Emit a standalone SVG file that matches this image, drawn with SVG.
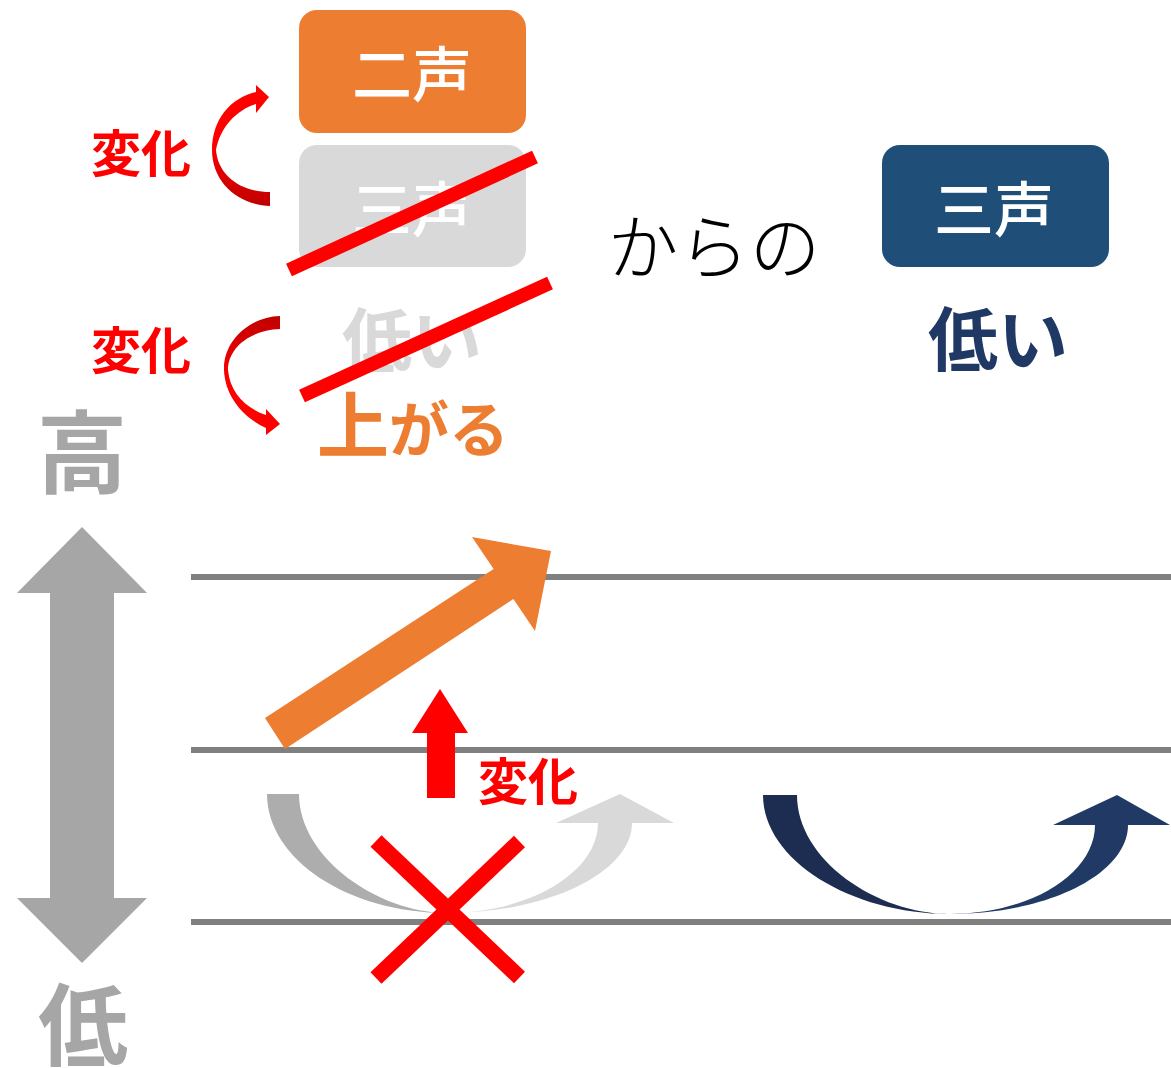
<svg xmlns="http://www.w3.org/2000/svg" width="1171" height="1068" viewBox="0 0 1171 1068">
<defs>
<style>
.jp{font-family:"Noto Sans CJK JP","Noto Sans CJK SC",sans-serif;font-weight:700;text-anchor:middle}
.jpr{font-family:"Noto Sans CJK JP","Noto Sans CJK SC",sans-serif;font-weight:500;text-anchor:middle;fill:#ffffff}
.jpl{font-family:"Noto Sans CJK JP","Noto Sans CJK SC",sans-serif;font-weight:300;text-anchor:middle}
.lvl{stroke:#808080;stroke-width:6;fill:none}
.red{fill:#ff0000}
.strike{stroke:#ff0000;stroke-width:14;fill:none}
</style>
<linearGradient id="gUp" x1="0" y1="0" x2="0" y2="1">
<stop offset="0" stop-color="#ff0000"/><stop offset="0.45" stop-color="#ff0000"/><stop offset="1" stop-color="#c00000"/>
</linearGradient>
<linearGradient id="gDown" x1="0" y1="0" x2="0" y2="1">
<stop offset="0" stop-color="#c00000"/><stop offset="0.55" stop-color="#ff0000"/><stop offset="1" stop-color="#ff0000"/>
</linearGradient>
</defs>
<rect width="1171" height="1068" fill="#ffffff"/>

<g id="levels">
<line class="lvl" x1="191" y1="577" x2="1171" y2="577"/>
<line class="lvl" x1="191" y1="750" x2="1171" y2="750"/>
<line class="lvl" x1="191" y1="922" x2="1171" y2="922"/>
</g>

<g id="axis">
<polygon fill="#a6a6a6" points="82,527 147,593 114,593 114,898 147,898 82,963 17,898 50,898 50,593 17,593"/>
<text class="jp" x="82" y="486" font-size="90" fill="#a6a6a6">高</text>
<text class="jp" x="83" y="1059" font-size="90" fill="#a6a6a6">低</text>
</g>

<g id="box-nisei">
<rect x="299" y="10" width="227" height="123" rx="18" fill="#ed7d31"/>
<text class="jpr" x="412" y="97" font-size="60">二声</text>
</g>

<g id="box-sansei-gray">
<rect x="299" y="145" width="227" height="122" rx="18" fill="#d9d9d9"/>
<text class="jpr" x="412" y="232" font-size="60">三声</text>
</g>

<g id="box-sansei">
<rect x="882" y="145" width="227" height="122" rx="18" fill="#1f4e79"/>
<text class="jpr" x="994" y="232" font-size="60">三声</text>
</g>

<g id="label-hikui-gray">
<text class="jp" x="412" y="367" font-size="70" fill="#d9d9d9">低い</text>
</g>

<g id="label-hikui">
<text class="jp" x="998" y="366" font-size="70" fill="#1f3864">低い</text>
</g>

<g id="label-kara">
<text class="jpl" x="714" y="273" font-size="71" fill="#000000">からの</text>
</g>

<g id="label-agaru">
<text class="jp" x="413" y="452" fill="#ed7d31"><tspan font-size="72">上</tspan><tspan font-size="60">がる</tspan></text>
</g>

<g id="label-henka1">
<text class="jp" x="141" y="172" font-size="50" fill="#ff0000">変化</text>
</g>
<g id="label-henka2">
<text class="jp" x="141" y="369" font-size="50" fill="#ff0000">変化</text>
</g>
<g id="label-henka3">
<text class="jp" x="528" y="800" font-size="50" fill="#ff0000">変化</text>
</g>

<g id="connectors">
<path fill="url(#gUp)" d="M270,206 C238,205 212,182 212,150 C212,120 230,98 256,92 L256,85 L269,97 L256,113 L256,104 C236,110 220,128 216,150 C218,175 240,192 270,192 Z"/>
<path fill="url(#gDown)" d="M280,316 C248,317 223,342 224,370 C225,397 244,418 266,428 L266,435 L280,424 L266,409 L266,415 C245,408 230,392 228,370 C228,348 250,330 280,329 Z"/>
<line class="strike" x1="289" y1="270" x2="535" y2="157"/>
<line class="strike" x1="302" y1="396" x2="550" y2="283"/>
<polygon fill="#ed7d31" points="265,718 493.6,569 472,537 551,551 535,631 513.4,599 285,749"/>
<polygon class="red" points="440,689 468,733 455,733 455,798 427,798 427,733 412,733"/>
<path fill="#adadad" d="M267,794 L299,794 C299,859 380,913 447,913 C348,913 267,859 267,794 Z"/>
<path fill="#d9d9d9" d="M447,913 C549,913 632,872 632,823 L674,823 L620,794 L556,823 L598,823 C598,872 530,913 447,913 Z"/>
<line stroke="#ff0000" stroke-width="16" x1="376" y1="841" x2="519.5" y2="977.5"/>
<line stroke="#ff0000" stroke-width="16" x1="519.5" y1="841.5" x2="376" y2="978"/>
<path fill="#1c2d51" d="M763,795 L797,795 C797,860 877,914 950,914 C851,914 763,860 763,795 Z"/>
<path fill="#213965" d="M950,914 C1048,914 1128,874 1128,825 L1170,825 L1117,795 L1053,825 L1095,825 C1095,874 1030,914 950,914 Z"/>
</g>
</svg>
